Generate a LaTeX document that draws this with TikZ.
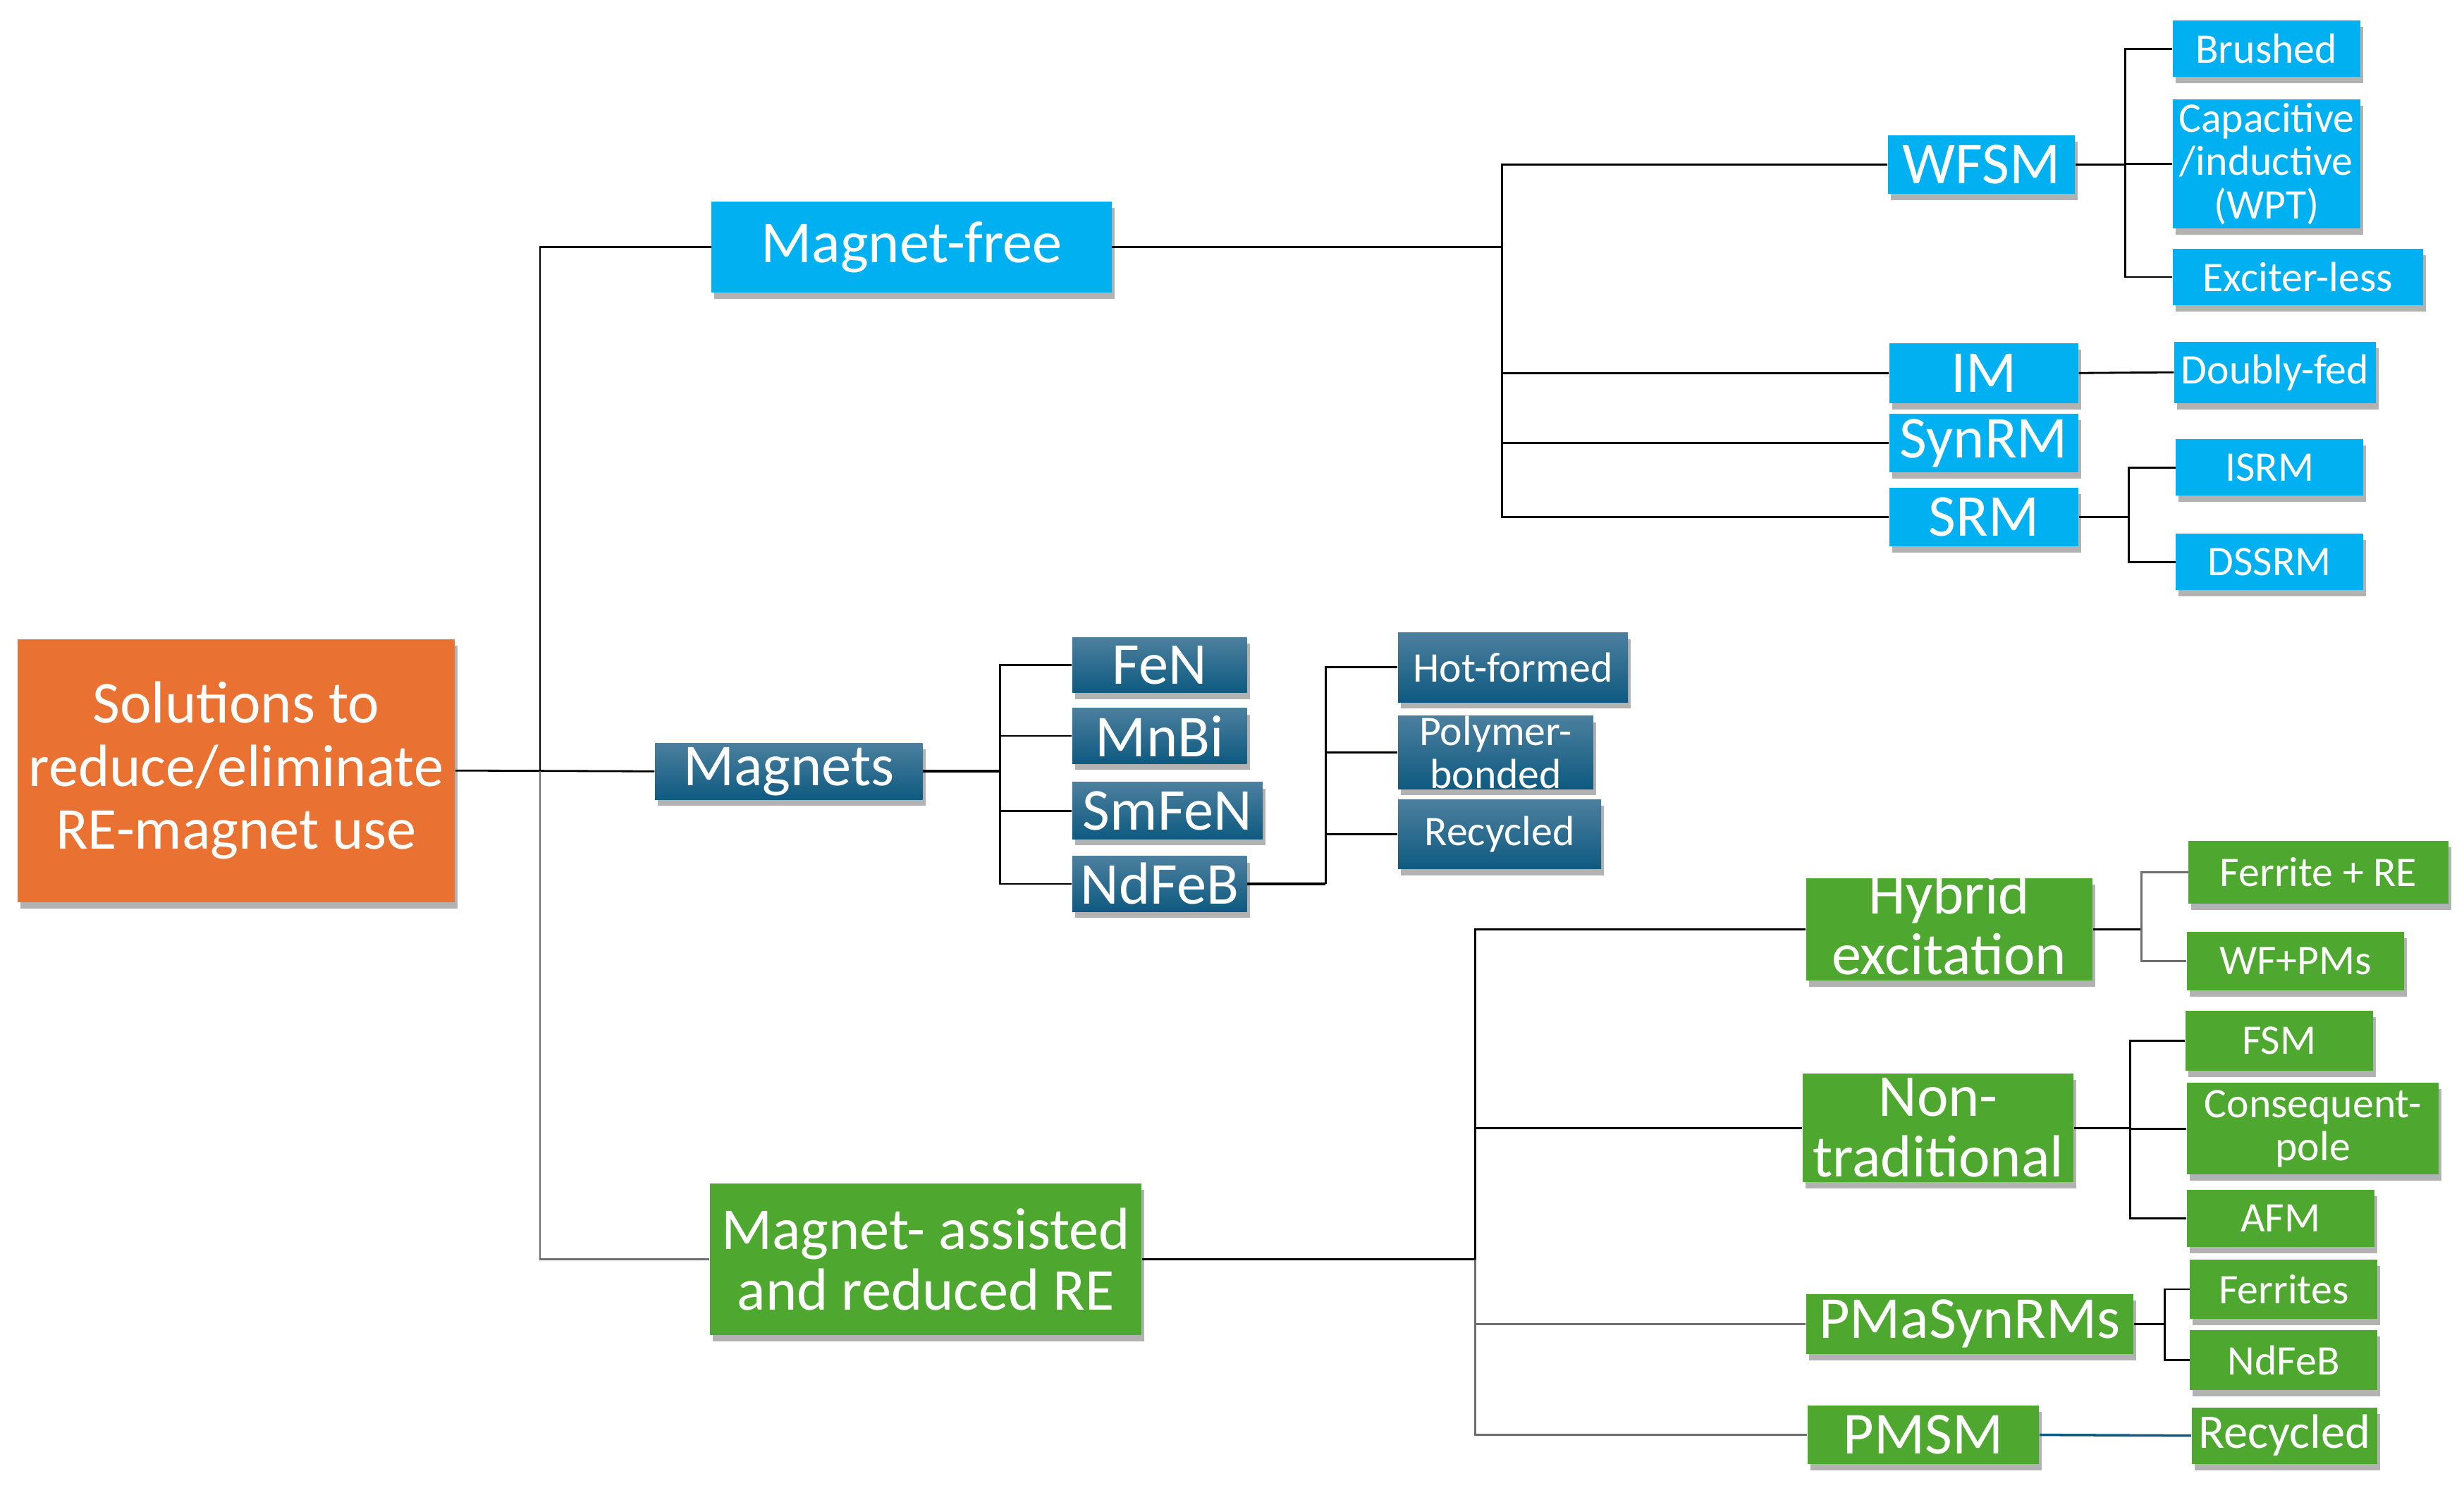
\documentclass[tikz,border=0pt]{standalone}
\usepackage{fontspec}
\setmainfont{Carlito}
\usetikzlibrary{shadows}
\definecolor{reorange}{HTML}{E97132}
\definecolor{freeblue}{HTML}{00B0F0}
\definecolor{magblue}{HTML}{0E5A80}
\definecolor{maglight}{HTML}{4C7F9E}
\definecolor{assistgreen}{HTML}{4EA72E}
\definecolor{linegrey}{HTML}{6E6E6E}
\tikzset{
	box/.style={draw=none,text=white,align=center,inner sep=0pt,
		drop shadow={shadow xshift=0.4mm,shadow yshift=-0.9mm,fill=black,opacity=0.3}},
	big/.style={font=\fontsize{24}{24.5}\selectfont},
	small/.style={font=\fontsize{17}{17.5}\selectfont},
	wh/.style 2 args={minimum width=#1*0.2233mm,minimum height=#2*0.2233mm},
	free/.style={box,fill=freeblue},
	magbox/.style={box,top color=maglight,bottom color=magblue},
	assist/.style={box,fill=assistgreen},
	conn/.style={line width=0.8pt},
	conngrey/.style={line width=0.8pt,draw=linegrey},
}
\begin{document}
\begin{tikzpicture}[x=0.2233mm,y=-0.2233mm]
	\fill[white] (0,0) rectangle (1565,945);
	\useasboundingbox (0,0) rectangle (1565,945);
	% root and first level
	\node[box,fill=reorange,font=\fontsize{24}{25.5}\selectfont,wh={278}{167}] (root) at (150,489.5) {Solutions to\\reduce/eliminate\\RE-magnet use};
	\node[free,big,wh={254}{58}] (mf) at (579,157) {Magnet-free};
	\node[magbox,big,wh={170}{36}] (mag) at (501,490) {Magnets};
	\node[assist,big,wh={274}{96}] (ma) at (588,800) {Magnet- assisted\\and reduced RE};
	% magnet-free machines
	\node[free,big,wh={119}{37}] (wfsm) at (1258.5,104.5) {WFSM};
	\node[free,big,wh={120}{38}] (im) at (1260,237) {IM};
	\node[free,big,wh={120}{37}] (synrm) at (1260,281.5) {SynRM};
	\node[free,big,wh={120}{37}] (srm) at (1260,328.5) {SRM};
	\node[free,small,wh={119}{36}] (brushed) at (1439.5,31) {Brushed};
	\node[free,small,wh={119}{82}] (capind) at (1439.5,104) {Capacitive\\/inductive\\(WPT)};
	\node[free,small,wh={159}{36}] (exciter) at (1459.5,176) {Exciter-less};
	\node[free,small,wh={128}{39}] (dfed) at (1445,236.5) {Doubly-fed};
	\node[free,small,wh={119}{36}] (isrm) at (1441.5,297) {ISRM};
	\node[free,small,wh={119}{36}] (dssrm) at (1441.5,357) {DSSRM};
	% magnet materials
	\node[magbox,big,wh={111}{35}] (fen) at (736.5,422.5) {FeN};
	\node[magbox,big,wh={111}{35}] (mnbi) at (736.5,467.5) {MnBi};
	\node[magbox,big,wh={121}{36}] (smfen) at (741.5,515) {SmFeN};
	\node[magbox,big,wh={111}{35}] (ndfeb) at (736.5,561.5) {NdFeB};
	\node[magbox,small,wh={146}{44}] (hotf) at (961,424) {Hot-formed};
	\node[magbox,small,wh={124}{44}] (polyb) at (950,478) {Polymer-\\bonded};
	\node[magbox,small,wh={129}{44}] (recmag) at (952.5,530) {Recycled};
	% magnet-assisted machines
	\node[assist,big,wh={182}{65},text height=38.6pt,text depth=2.5pt] (hyb) at (1238,590.5) {Hybrid\\excitation};
	\node[assist,big,wh={172}{69}] (nontr) at (1231,716.5) {Non-\\traditional};
	\node[assist,big,wh={208}{38}] (pmasyn) at (1251,841) {PMaSynRMs};
	\node[assist,big,wh={147}{37}] (pmsm) at (1221.5,911.5) {PMSM};
	\node[assist,small,wh={165}{40}] (ferre) at (1472.5,554) {Ferrite + RE};
	\node[assist,small,wh={138}{37}] (wfpm) at (1458,610.5) {WF+PMs};
	\node[assist,small,wh={119}{38}] (fsm) at (1447.5,661) {FSM};
	\node[assist,small,wh={160}{58}] (conspole) at (1469,717) {Consequent-\\pole};
	\node[assist,small,wh={119}{36}] (afm) at (1448.5,774) {AFM};
	\node[assist,small,wh={119}{38}] (ferr) at (1450.5,819) {Ferrites};
	\node[assist,small,wh={119}{38}] (ndfe2) at (1450.5,864) {NdFeB};
	\node[assist,font=\fontsize{19.5}{20}\selectfont,wh={118}{36}] (recass) at (1451,912) {Recycled};
	% branch columns
	\coordinate (trunk) at (343,490);
	\coordinate (freecol) at (954,157);
	\coordinate (wfsmcol) at (1350,104.5);
	\coordinate (srmcol) at (1352,328.5);
	\coordinate (magcol) at (635,490);
	\coordinate (ndcol) at (842,561.5);
	\coordinate (assistcol) at (937,800);
	\coordinate (hybcol) at (1360,590.5);
	\coordinate (ntcol) at (1353,716.5);
	\coordinate (pmacol) at (1375,841);
	% connectors
	\draw[conn] (root.east) -- (mag.west);
	\draw[conn] (mf.west) -| (trunk);
	\draw[conngrey] (trunk) |- (ma.west);
	\draw[conn] (mf.east) -- (freecol);
	\foreach \n in {wfsm,im,synrm,srm} \draw[conn] (freecol) |- (\n.west);
	\draw[conn] (wfsm.east) -- (wfsmcol);
	\foreach \n in {brushed,capind,exciter} \draw[conn] (wfsmcol) |- (\n.west);
	\draw[conn] (im.east) -- (dfed.west);
	\draw[conn] (srm.east) -- (srmcol);
	\foreach \n in {isrm,dssrm} \draw[conn] (srmcol) |- (\n.west);
	\draw[conn,line width=1.2pt] (mag.east) -- (magcol);
	\foreach \n in {fen,mnbi,smfen,ndfeb} \draw[conn] (magcol) |- (\n.west);
	\draw[conn,line width=1.2pt] (ndfeb.east) -- (ndcol);
	\foreach \n in {hotf,polyb,recmag} \draw[conn] (ndcol) |- (\n.west);
	\draw[conn] (ma.east) -- (assistcol);
	\foreach \n in {hyb,nontr} \draw[conn] (assistcol) |- (\n.west);
	\foreach \n in {pmasyn,pmsm} \draw[conngrey] (assistcol) |- (\n.west);
	\draw[conn] (hyb.east) -- (hybcol);
	\foreach \n in {ferre,wfpm} \draw[conngrey] (hybcol) |- (\n.west);
	\draw[conn] (nontr.east) -- (ntcol);
	\foreach \n in {fsm,conspole,afm} \draw[conn] (ntcol) |- (\n.west);
	\draw[conn] (pmasyn.east) -- (pmacol);
	\foreach \n in {ferr,ndfe2} \draw[conn] (pmacol) |- (\n.west);
	\draw[conn,draw=magblue,line width=1pt] (pmsm.east) -- (recass.west);
\end{tikzpicture}
\end{document}
